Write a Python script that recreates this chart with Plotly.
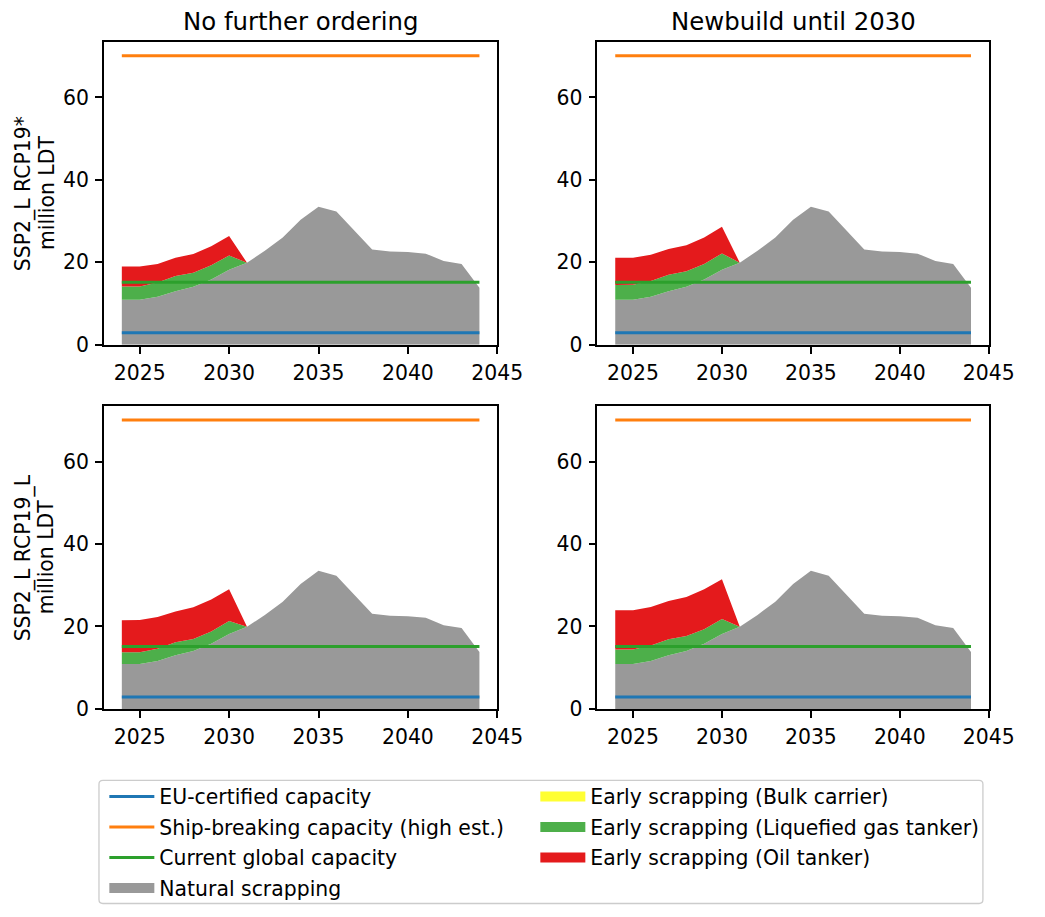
import plotly.graph_objects as go

# ---- data -------------------------------------------------------------
years = [2024, 2025, 2026, 2027, 2028, 2029, 2030, 2031, 2032, 2033, 2034,
         2035, 2036, 2037, 2038, 2039, 2040, 2041, 2042, 2043, 2044]

# natural scrapping (million LDT), identical in every scenario
natural = [10.9, 10.9, 11.65, 13.0, 14.05, 15.8, 18.2, 19.9, 22.8, 26.0, 30.3,
           33.5, 32.3, 27.8, 23.1, 22.6, 22.5, 22.1, 20.3, 19.6, 13.8]

# early scrapping per scenario (million LDT)
bulk_all = [0, 0, 0, 0, 0, 0, 0, 0, 0, 0, 0, 0, 0, 0, 0, 0, 0, 0, 0, 0, 0]

lng_nfo_19s = [3.25, 3.25, 3.45, 3.7, 3.4, 3.5, 3.45, 0, 0, 0, 0, 0, 0, 0, 0, 0, 0, 0, 0, 0, 0]
oil_nfo_19s = [4.85, 4.85, 4.5, 4.4, 4.55, 4.6, 4.7, 0, 0, 0, 0, 0, 0, 0, 0, 0, 0, 0, 0, 0, 0]

lng_nb_19s = [3.6, 3.65, 3.8, 4.0, 3.75, 3.8, 3.95, 0, 0, 0, 0, 0, 0, 0, 0, 0, 0, 0, 0, 0, 0]
oil_nb_19s = [6.6, 6.55, 6.35, 6.2, 6.35, 6.4, 6.45, 0, 0, 0, 0, 0, 0, 0, 0, 0, 0, 0, 0, 0, 0]

lng_nfo_19l = [2.85, 2.85, 2.95, 3.15, 2.9, 2.95, 3.15, 0, 0, 0, 0, 0, 0, 0, 0, 0, 0, 0, 0, 0, 0]
oil_nfo_19l = [7.75, 7.8, 7.7, 7.5, 7.7, 7.8, 7.65, 0, 0, 0, 0, 0, 0, 0, 0, 0, 0, 0, 0, 0, 0]

lng_nb_19l = [3.5, 3.5, 3.75, 3.9, 3.65, 3.55, 3.6, 0, 0, 0, 0, 0, 0, 0, 0, 0, 0, 0, 0, 0, 0]
oil_nb_19l = [9.55, 9.55, 9.3, 9.25, 9.45, 9.7, 9.65, 0, 0, 0, 0, 0, 0, 0, 0, 0, 0, 0, 0, 0, 0]

# capacity benchmarks (million LDT per year)
eu_certified = 2.9
shipbreaking_high = 70.1
current_global = 15.15

line_span = [2024, 2044]

col_titles = ["No further ordering", "Newbuild until 2030"]
row_labels = [["SSP2_L RCP19*", "million LDT"], ["SSP2_L RCP19_L", "million LDT"]]
x_ticks = [2025, 2030, 2035, 2040, 2045]
y_ticks = [0, 20, 40, 60]

panels = [
    (lng_nfo_19s, oil_nfo_19s),
    (lng_nb_19s, oil_nb_19s),
    (lng_nfo_19l, oil_nfo_19l),
    (lng_nb_19l, oil_nb_19l),
]

# ---- styling ------------------------------------------------------------
W, H = 1045, 917
FONT = "DejaVu Sans"
FS = 20.4
TITLE_FS = 24.4
LW = 3.06
SPINE = 1.63
C_EU, C_SB, C_CUR = "#1f77b4", "#ff7f0e", "#2ca02c"
C_NAT, C_BULK, C_LNG, C_OIL = "#999999", "#ffff33", "#4daf4a", "#e41a1c"


def px_x(v):
    return v / W


def px_y(v):
    return 1 - v / H


x_dom = [(106.6, 510.0), (612.7, 1014.0)]
y_dom = [(42.3, 349.3), (411.3, 718.3)]

fig = go.Figure()

fill_series = [
    ("Natural scrapping", C_NAT, "legend", 4),
    ("Early scrapping (Bulk carrier)", C_BULK, "legend2", 1),
    ("Early scrapping (Liquefied gas tanker)", C_LNG, "legend2", 2),
    ("Early scrapping (Oil tanker)", C_OIL, "legend2", 3),
]
line_series = [
    ("EU-certified capacity", eu_certified, C_EU, 1),
    ("Ship-breaking capacity (high est.)", shipbreaking_high, C_SB, 2),
    ("Current global capacity", current_global, C_CUR, 3),
]

for i, (lng, oil) in enumerate(panels):
    n = i + 1
    xa = "x" if n == 1 else f"x{n}"
    ya = "y" if n == 1 else f"y{n}"
    first = i == 0
    stack_vals = [natural, bulk_all, lng, oil]
    for (name, col, leg, rank), vals in zip(fill_series, stack_vals):
        fig.add_trace(go.Scatter(
            x=years, y=vals, name=name, stackgroup=f"stack{n}", mode="lines",
            line=dict(width=0, color=col), fillcolor=col,
            xaxis=xa, yaxis=ya, showlegend=False, hoverinfo="skip",
        ))
    for name, val, col, rank in line_series:
        fig.add_trace(go.Scatter(
            x=line_span, y=[val, val], name=name, mode="lines",
            line=dict(width=LW, color=col),
            xaxis=xa, yaxis=ya, showlegend=first, legend="legend",
            legendrank=rank, legendgroup=name, hoverinfo="skip",
        ))

# legend keys for the stacked areas (solid patches)
for name, col, leg, rank in fill_series:
    fig.add_trace(go.Scatter(
        x=[None], y=[None], name=name, mode="lines",
        line=dict(width=14, color=col), showlegend=True, legend=leg,
        legendrank=rank, legendgroup=name, hoverinfo="skip",
    ))

axis_common = dict(
    showline=True, linecolor="black", linewidth=SPINE, mirror=True,
    ticks="outside", ticklen=7, tickwidth=SPINE, tickcolor="black",
    showgrid=False, zeroline=False,
    tickfont=dict(family=FONT, size=FS, color="black"),
)

layout_axes = {}
for i in range(4):
    r, c = divmod(i, 2)
    n = i + 1
    xk = "xaxis" if n == 1 else f"xaxis{n}"
    yk = "yaxis" if n == 1 else f"yaxis{n}"
    x0, x1 = x_dom[c]
    y0, y1 = y_dom[r]
    layout_axes[xk] = dict(
        axis_common, domain=[px_x(x0), px_x(x1)], range=[2023, 2045],
        tickvals=x_ticks, anchor="y" if n == 1 else f"y{n}", ticklabelstandoff=2,
    )
    layout_axes[yk] = dict(
        axis_common, domain=[px_y(y1), px_y(y0)], range=[0, 73.5],
        tickvals=y_ticks, anchor="x" if n == 1 else f"x{n}", ticklabelstandoff=2,
    )

annotations = []
for c, title in enumerate(col_titles):
    x0, x1 = x_dom[c]
    annotations.append(dict(
        text=title, x=px_x((x0 + x1) / 2), y=px_y(21.5), xref="paper", yref="paper",
        xanchor="center", yanchor="middle", showarrow=False,
        font=dict(family=FONT, size=TITLE_FS, color="black"),
    ))
for r, (l1, l2) in enumerate(row_labels):
    y0, y1 = y_dom[r]
    yc = (y0 + y1) / 2
    for txt, xc in ((l1, 23.5), (l2, 48)):
        annotations.append(dict(
            text=txt, x=px_x(xc), y=px_y(yc), xref="paper", yref="paper",
            xanchor="center", yanchor="middle", showarrow=False, textangle=-90,
            font=dict(family=FONT, size=FS, color="black"),
        ))

# legend frame with slightly rounded corners
lx0, lx1, ly0, ly1, rad = 101.5, 1008.0, 790.7, 915.5, 4


def frame_path():
    pts = [
        f"M {px_x(lx0 + rad)},{px_y(ly0)}",
        f"L {px_x(lx1 - rad)},{px_y(ly0)}",
        f"Q {px_x(lx1)},{px_y(ly0)} {px_x(lx1)},{px_y(ly0 + rad)}",
        f"L {px_x(lx1)},{px_y(ly1 - rad)}",
        f"Q {px_x(lx1)},{px_y(ly1)} {px_x(lx1 - rad)},{px_y(ly1)}",
        f"L {px_x(lx0 + rad)},{px_y(ly1)}",
        f"Q {px_x(lx0)},{px_y(ly1)} {px_x(lx0)},{px_y(ly1 - rad)}",
        f"L {px_x(lx0)},{px_y(ly0 + rad)}",
        f"Q {px_x(lx0)},{px_y(ly0)} {px_x(lx0 + rad)},{px_y(ly0)}",
        "Z",
    ]
    return " ".join(pts)


legend_common = dict(
    xanchor="left", yanchor="top", xref="paper", yref="paper",
    bgcolor="rgba(0,0,0,0)", borderwidth=0,
    font=dict(family=FONT, size=FS, color="black"),
    traceorder="grouped", tracegroupgap=1, itemwidth=45,
    itemclick=False, itemdoubleclick=False,
)

fig.update_layout(
    width=W, height=H, margin=dict(l=0, r=0, t=0, b=0),
    paper_bgcolor="white", plot_bgcolor="white",
    font=dict(family=FONT, size=FS, color="black"),
    annotations=annotations,
    shapes=[dict(type="path", path=frame_path(), xref="paper", yref="paper",
                 line=dict(color="#cccccc", width=1.3), fillcolor="rgba(255,255,255,0.8)",
                 layer="below")],
    legend=dict(legend_common, x=px_x(107), y=px_y(787)),
    legend2=dict(legend_common, x=px_x(549), y=px_y(787)),
    **layout_axes,
)

fig.write_html("out.html")
